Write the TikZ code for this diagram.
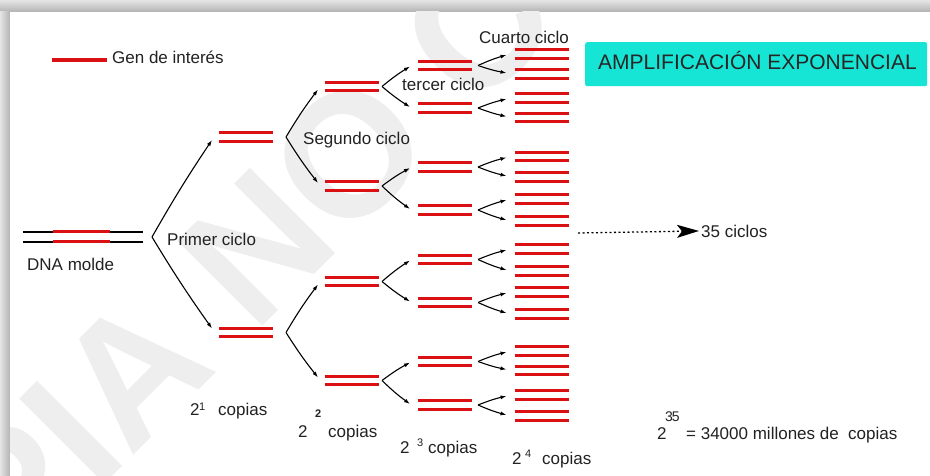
\documentclass[tikz,border=0pt]{standalone}
\usepackage{fontspec}
\setmainfont{Liberation Sans}
\usetikzlibrary{arrows.meta}
\definecolor{gen}{RGB}{218,16,18}
\definecolor{cian}{RGB}{22,229,214}
\definecolor{txt}{RGB}{34,34,34}
\definecolor{marca}{RGB}{238,238,238}
\tikzset{
  lbl/.style={anchor=base west, inner sep=0pt, text=txt, font=\fontsize{17}{20}\selectfont},
  suplbl/.style={anchor=base west, inner sep=0pt, text=txt, font=\fontsize{11}{13}\selectfont},
  flecha/.style={draw=black, line width=1.1pt, -{Latex[length=6pt,width=4pt]}},
  rojo/.style={draw=gen, line width=3.4pt},
  copia/.pic={\draw[rojo] (-27,-4.25) -- (27,-4.25); \draw[rojo] (-27,4.25) -- (27,4.25);},
}
\begin{document}
\begin{tikzpicture}[x=1pt,y=-1pt]
\useasboundingbox (0,0) rectangle (930,476);
% frame
\fill[gray!45] (0,0) rectangle (930,476);
\shade[top color=gray!20, bottom color=gray!60] (0,0) rectangle (930,12);
\shade[left color=gray!20, right color=gray!60] (0,12) rectangle (10,476);
\fill[white] (10,12) rectangle (930,476);
% watermark
\begin{scope}
\clip (10,12) rectangle (930,476);
\node[anchor=base west, rotate=45, inner sep=0pt, text=marca,
      font=\fontsize{175}{175}\bfseries\selectfont] (marca) at (-172,761) {COPIA NO CONTROLADA};
\end{scope}
% legend
\coordinate (legA) at (52,60);
\coordinate (legB) at (107,60);
\draw[rojo] (legA) -- (legB);
\node[lbl] (leg) at (112,64) {Gen de interés};
% DNA molde
\coordinate (m1a) at (23,232); \coordinate (m1b) at (143,232);
\coordinate (m2a) at (23,242); \coordinate (m2b) at (143,242);
\coordinate (r1a) at (53,232); \coordinate (r1b) at (110,232);
\coordinate (r2a) at (53,242); \coordinate (r2b) at (110,242);
\draw[black, line width=1.3pt] (m1a) -- (m1b);
\draw[black, line width=1.3pt] (m2a) -- (m2b);
\draw[rojo, line width=3pt] (r1a) -- (r1b);
\draw[rojo, line width=3pt] (r2a) -- (r2b);
\node[lbl] (dna) at (27,270) {DNA molde};
% copies
\foreach \y [count=\i] in {137,332.5} {
  \pic at (246,\y) {copia}; \coordinate (g1-\i) at (246,\y);}
\foreach \y [count=\i] in {86.5,186,281.5,380.5} {
  \pic at (351.5,\y) {copia}; \coordinate (g2-\i) at (351.5,\y);}
\foreach \y [count=\i] in {65.5,108,167,210,259.5,302.5,361.5,405} {
  \pic at (445,\y) {copia}; \coordinate (g3-\i) at (445,\y);}
\foreach \y [count=\i] in {54,74,98,117.5,156.5,177,199,221,249,271,292,314,351,370.5,395,416} {
  \pic at (541.5,\y) {copia}; \coordinate (g4-\i) at (541.5,\y);}
% first cycle
\coordinate (v0) at (152,237);
\path (g1-1) ++(-34,3) coordinate (t1-1);
\path (g1-2) ++(-34,-4) coordinate (t1-2);
\draw[flecha] (v0) to[bend left=2] (t1-1);
\draw[flecha] (v0) to[bend right=2] (t1-2);
% second cycle
\foreach \i in {1,2} {
  \pgfmathtruncatemacro\a{2*\i-1}
  \pgfmathtruncatemacro\b{2*\i}
  \path (g1-\i) ++(40,0) coordinate (v1-\i);
  \path (g2-\a) ++(-33.5,3) coordinate (t2-\a);
  \path (g2-\b) ++(-33.5,-3) coordinate (t2-\b);
  \draw[flecha] (v1-\i) to[bend left=3] (t2-\a);
  \draw[flecha] (v1-\i) to[bend right=3] (t2-\b);
}
% third cycle
\foreach \i in {1,...,4} {
  \pgfmathtruncatemacro\a{2*\i-1}
  \pgfmathtruncatemacro\b{2*\i}
  \path (g2-\i) ++(30.5,0) coordinate (v2-\i);
  \path (g3-\a) ++(-35,1) coordinate (t3-\a);
  \path (g3-\b) ++(-35,-1) coordinate (t3-\b);
  \draw[flecha] (v2-\i) to[bend left=4] (t3-\a);
  \draw[flecha] (v2-\i) to[bend right=4] (t3-\b);
}
% fourth cycle
\foreach \i in {1,...,8} {
  \pgfmathtruncatemacro\a{2*\i-1}
  \pgfmathtruncatemacro\b{2*\i}
  \path (g3-\i) ++(33,0) coordinate (v3-\i);
  \path (g4-\a) ++(-35,1) coordinate (t4-\a);
  \path (g4-\b) ++(-35,-1) coordinate (t4-\b);
  \draw[flecha] (v3-\i) to[bend left=4] (t4-\a);
  \draw[flecha] (v3-\i) to[bend right=4] (t4-\b);
}
% cycle labels
\node[lbl] (primer) at (167,245) {Primer ciclo};
\node[lbl] (segundo) at (303,145) {Segundo ciclo};
\node[lbl] (tercer) at (402,91) {tercer ciclo};
\node[lbl] (cuarto) at (479,44) {Cuarto ciclo};
% title
\node[fill=cian, rounded corners=2pt, minimum width=342pt, minimum height=44pt,
      inner sep=0pt, anchor=north west] (titulo) at (585,42) {};
\node[anchor=base west, inner sep=0pt, text=black!85,
      font=\fontsize{21}{24}\selectfont] (titTxt) at (598,70) {AMPLIFICACIÓN EXPONENCIAL};
% 35 ciclos
\node[lbl] (ciclos) at (701,237) {35 ciclos};
\coordinate (pA) at (578,233);
\draw[black, line width=1.3pt, dash pattern=on 2pt off 2.5pt,
      -{Stealth[length=22pt,width=13pt,inset=5pt]}, shorten >=2pt] (pA) -- (ciclos.west);
% copies labels
\node[lbl] (n1) at (190,415) {2};
\node[suplbl] (s1) at (199,410) {1};
\node[lbl] (c1) at (218,415) {copias};
\node[lbl] (n2) at (298,437) {2};
\node[suplbl] (s2) at (315,417) {\bfseries 2};
\node[lbl] (c2) at (328,437) {copias};
\node[lbl] (n3) at (400,453) {2};
\node[suplbl] (s3) at (417,446) {3};
\node[lbl] (c3) at (428,453) {copias};
\node[lbl] (n4) at (512,464) {2};
\node[suplbl] (s4) at (525,457) {4};
\node[lbl] (c4) at (542,464) {copias};
\node[lbl] (n5) at (657,439) {2};
\node[anchor=base west, inner sep=0pt, text=txt, font=\fontsize{14}{16}\selectfont] (s5) at (665,421) {3\kern-1pt 5};
\node[lbl] (c5) at (686,439) {= 34000 millones de \ copias};
\end{tikzpicture}
\end{document}
